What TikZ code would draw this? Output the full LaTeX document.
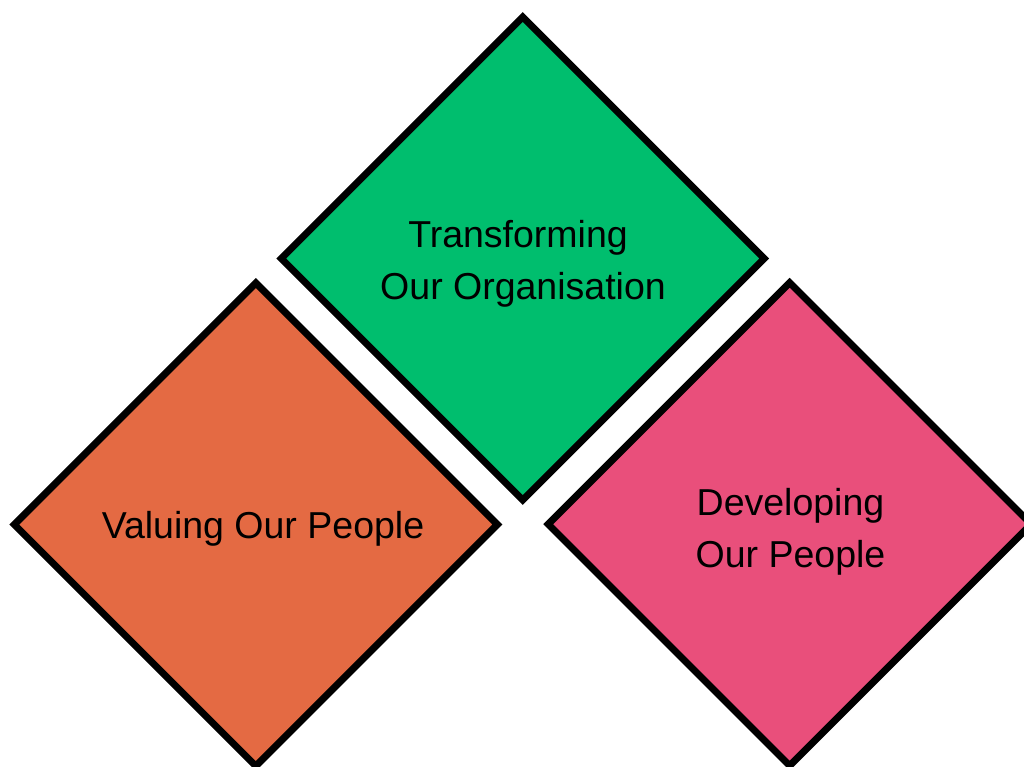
\documentclass[tikz,border=0pt]{standalone}
\usepackage{fontspec}
\setmainfont{Liberation Sans}
\usetikzlibrary{shapes.geometric}
\definecolor{tgreen}{RGB}{0,190,110}
\definecolor{torange}{RGB}{228,106,67}
\definecolor{tpink}{RGB}{233,79,123}
\tikzset{
  dia/.style={diamond, draw=black, line width=7pt, line join=miter, inner sep=0pt, outer sep=0pt, minimum width=483pt, minimum height=483pt},
  lab/.style={anchor=base, inner sep=0pt, font=\fontsize{37.5}{52}\selectfont, text=black}
}
\begin{document}
\begin{tikzpicture}[x=1pt,y=-1pt]
\useasboundingbox (0,0) rectangle (1024,767);
\node[dia, fill=tgreen] (green) at (522.7,258.5) {};
\node[dia, fill=torange] (orange) at (255.8,524.5) {};
\node[dia, fill=tpink] (pink) at (789.7,524.2) {};
\node[lab] (g1) at (518,247.7) {Transforming};
\node[lab] (g2) at (523,299) {Our Organisation};
\node[lab] (o1) at (263,538) {Valuing Our People};
\node[lab] (p1) at (790.5,515) {Developing};
\node[lab] (p2) at (790.5,567) {Our People};
\end{tikzpicture}
\end{document}
